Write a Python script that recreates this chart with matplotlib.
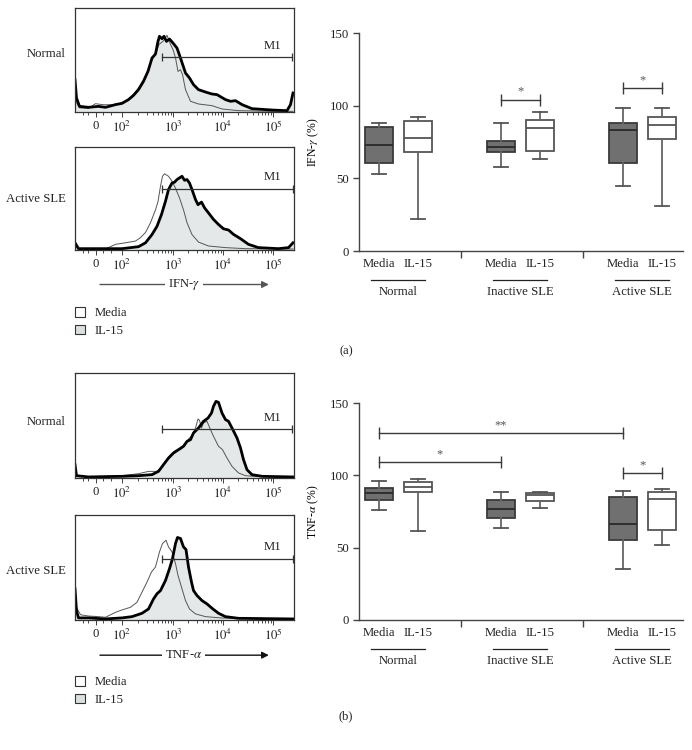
import matplotlib
matplotlib.use('Agg')
import matplotlib.pyplot as plt
from matplotlib.patches import Patch
from matplotlib.transforms import blended_transform_factory
import numpy as np

plt.rcParams['font.family'] = ['Liberation Serif', 'DejaVu Serif']
plt.rcParams['mathtext.fontset'] = 'stix'
plt.rcParams['text.color'] = '#222222'

FS = 9.2

# ---------------- histogram data (x in decades of fluorescence, y = % of panel height) -------------
hist_ticks = [1.46, 1.97, 3, 4, 5]
hist_ticklabels = ['0', '$10^2$', '$10^3$', '$10^4$', '$10^5$']

# IFN-g, normal
ifn_norm_il15_x = [1.04, 1.07, 1.13, 1.31, 1.51, 1.65, 1.85, 1.98, 2.11, 2.21, 2.31, 2.41, 2.50, 2.58, 2.65,
                   2.70, 2.73, 2.78, 2.82, 2.87, 2.93, 3.00, 3.08, 3.15, 3.25, 3.33, 3.41, 3.51, 3.65, 3.78,
                   3.88, 4.05, 4.15, 4.25, 4.38, 4.58, 4.98, 5.28, 5.35, 5.40]
ifn_norm_il15_y = [31, 13.5, 5.4, 4.5, 5.4, 4.5, 7.1, 8.3, 11.9, 16, 21.5, 29.5, 39.1, 51.9, 55.8,
                   67.9, 72.8, 70.5, 72.8, 67.9, 70.2, 66.3, 61.5, 51.9, 37.5, 32.7, 26.3, 21.5, 19.2, 17.3,
                   16.7, 11.9, 10.3, 10.9, 7.1, 3.2, 1.9, 1.3, 7.1, 18.3]
ifn_norm_media_x = [1.04, 1.08, 1.13, 1.31, 1.45, 1.60, 1.85, 1.98, 2.11, 2.21, 2.31, 2.41, 2.50, 2.58, 2.65,
                    2.72, 2.80, 2.88, 2.95, 3.00, 3.05, 3.10, 3.15, 3.19, 3.25, 3.35, 3.51, 3.78, 3.98, 4.31,
                    4.98, 5.40]
ifn_norm_media_y = [25, 8, 4, 3.5, 8, 7, 7, 9, 12, 17, 23, 31, 40, 50, 56,
                    65, 68, 73.7, 65, 60, 52, 39, 40.7, 36, 21.5, 10.3, 7.7, 6.1, 2.9, 1.3,
                    0.6, 0.6]

# IFN-g, active SLE
ifn_sle_il15_x = [1.04, 1.11, 1.65, 1.98, 2.31, 2.45, 2.58, 2.68, 2.77, 2.85, 2.91, 2.98, 3.03, 3.08, 3.13,
                  3.18, 3.23, 3.28, 3.33, 3.38, 3.45, 3.50, 3.57, 3.63, 3.71, 3.81, 3.91, 4.01, 4.11, 4.21,
                  4.35, 4.51, 4.71, 5.11, 5.31, 5.40]
ifn_sle_il15_y = [7, 1.3, 1.3, 1.3, 3.2, 7, 15, 23, 34.5, 47.4, 58.7, 65, 65.8, 68.4, 70,
                  71.6, 67.7, 68.4, 65, 58.7, 49, 44, 46.5, 41, 36, 29.7, 24.8, 20.6, 19.4, 15.2,
                  11, 5.5, 2.3, 1.3, 2.3, 7]
ifn_sle_media_x = [1.04, 1.10, 1.65, 1.85, 2.05, 2.25, 2.35, 2.45, 2.55, 2.65, 2.70, 2.75, 2.79, 2.83, 2.91,
                   2.98, 3.05, 3.13, 3.21, 3.28, 3.38, 3.51, 3.71, 4.05, 4.45, 5.40]
ifn_sle_media_y = [5, 1.3, 1, 5.5, 7, 8.7, 12, 17, 26.5, 39, 47, 62, 71.6, 74, 71.6,
                   66.8, 60, 50.6, 39, 26.5, 15, 7.7, 3.9, 2.3, 1.3, 1]

# TNF-a, normal
tnf_norm_il15_x = [1.04, 1.07, 1.31, 1.98, 2.31, 2.58, 2.71, 2.81, 2.91, 3.01, 3.11, 3.21, 3.28, 3.35, 3.41,
                   3.51, 3.61, 3.70, 3.77, 3.81, 3.86, 3.91, 3.98, 4.05, 4.11, 4.19, 4.28, 4.35, 4.41, 4.48,
                   4.58, 4.78, 5.40]
tnf_norm_il15_y = [12.7, 2.2, 1, 1.6, 2.2, 3.2, 6.3, 12.7, 19, 23.8, 27, 30.2, 34.9, 36.5, 42.9,
                   47.6, 54, 57.1, 61.9, 68.3, 73, 72, 61.9, 55.6, 54, 46.7, 38.1, 28.6, 17.5, 7.9,
                   3.2, 1.6, 1]
tnf_norm_media_x = [1.04, 1.07, 1.31, 1.98, 2.31, 2.51, 2.68, 2.75, 2.85, 2.95, 3.05, 3.15, 3.25, 3.31, 3.38,
                    3.45, 3.50, 3.53, 3.57, 3.61, 3.68, 3.75, 3.81, 3.91, 3.99, 4.08, 4.18, 4.31, 4.45, 4.71,
                    5.40]
tnf_norm_media_y = [8, 2, 1, 2.2, 4.1, 6.3, 6.3, 9.5, 15.9, 22.2, 26.3, 27, 31.7, 37.1, 40.3,
                    47.6, 56.2, 54.9, 47.6, 52.4, 54, 46, 39.7, 30.2, 27, 19, 11.1, 4.8, 2.2, 1.3,
                    1]

# TNF-a, active SLE
tnf_sle_il15_x = [1.04, 1.07, 1.11, 1.31, 1.65, 1.98, 2.18, 2.38, 2.51, 2.61, 2.68, 2.75, 2.85, 2.93, 2.99,
                  3.05, 3.09, 3.15, 3.21, 3.26, 3.31, 3.37, 3.41, 3.48, 3.58, 3.68, 3.78, 3.91, 4.05, 4.31,
                  5.40]
tnf_sle_il15_y = [29.7, 9, 2, 2, 1, 2, 3.2, 6.4, 10.5, 20, 25, 28, 37.7, 48.9, 58.5,
                  72.8, 78.6, 77.6, 69.6, 67.1, 50.5, 36.1, 28.1, 23.3, 18.5, 15.3, 11.2, 6.4, 3.2, 1.6,
                  1]
tnf_sle_media_x = [1.04, 1.07, 1.15, 1.31, 1.51, 1.65, 1.85, 1.98, 2.15, 2.28, 2.38, 2.48, 2.57, 2.65, 2.73,
                   2.79, 2.86, 2.91, 2.98, 3.05, 3.10, 3.17, 3.25, 3.33, 3.45, 3.65, 3.98, 5.40]
tnf_sle_media_y = [28, 12, 5, 3.8, 3.2, 2.6, 7.3, 9.6, 12.1, 16.9, 26.5, 36.1, 45.7, 50.5, 64.9,
                   72.8, 76, 69.6, 64.9, 53.7, 42.5, 31.3, 18.5, 10.5, 5.8, 3.2, 1.9, 1]

# M1 gate: (start, end, level)
m1_gates = [(2.78, 5.38, 52.9), (2.78, 5.40, 59.7), (2.78, 5.37, 46.7), (2.78, 5.40, 58.5)]

# ---------------- box plot data ----------------
box_labels = ['Media', 'IL-15', 'Media', 'IL-15', 'Media', 'IL-15']
group_names = ['Normal', 'Inactive SLE', 'Active SLE']
box_pos = [0, 0.32, 1, 1.32, 2, 2.32]

# IFN-g (%) : whisker low, q1, median, q3, whisker high
ifn_whislo = [52.9, 21.9, 57.5, 63.3, 44.6, 30.8]
ifn_q1 = [60.7, 68.3, 68.1, 69.0, 60.7, 76.8]
ifn_med = [73.2, 78.0, 71.5, 84.4, 83.3, 86.5]
ifn_q3 = [85.3, 89.7, 75.7, 90.4, 88.3, 92.5]
ifn_whishi = [87.9, 92.5, 88.1, 95.9, 98.5, 98.5]
ifn_sig = [(2, 3, 104, '*'), (4, 5, 112, '*')]

# TNF-a (%)
tnf_whislo = [75.9, 61.4, 63.9, 77.5, 35.5, 51.5]
tnf_q1 = [83.1, 88.2, 70.2, 82.2, 55.2, 62.3]
tnf_med = [87.7, 91.8, 76.4, 86.1, 66.7, 83.3]
tnf_q3 = [91.4, 95.3, 82.8, 87.5, 84.7, 88.2]
tnf_whishi = [95.8, 97.4, 88.4, 88.2, 89.1, 90.5]
tnf_sig = [(0, 4, 129.2, '**'), (0, 2, 108.9, '*'), (4, 5, 101.5, '*')]

W, H = 692, 750
fig = plt.figure(figsize=(W / 100, H / 100), dpi=100)


def rect(l, t, r, b):
    return [l / W, 1 - b / H, (r - l) / W, (b - t) / H]


def draw_hist(ax, il_x, il_y, me_x, me_y, gate):
    ax.fill_between(il_x, 0, il_y, color='#e4e8e8', lw=0)
    ax.plot(me_x, me_y, color='#555555', lw=0.7)
    ax.plot(il_x, il_y, color='black', lw=2.0, solid_joinstyle='round')
    g0, g1, gy = gate
    ax.plot([g0, g1], [gy, gy], color='#333333', lw=0.9, marker='|', ms=6, mew=0.9)
    ax.text(5.0, gy + 5, 'M1', ha='center', va='bottom', fontsize=FS)
    ax.set_xlim(1.04, 5.42)
    ax.set_ylim(0, 100)
    ax.set_yticks([])
    ax.set_xticks(hist_ticks)
    ax.set_xticklabels(hist_ticklabels, fontsize=FS)
    minors = [1.2, 1.3, 1.6, 1.75] + [np.log10(k * 10 ** n) for n in (2, 3, 4) for k in range(2, 10)]
    ax.set_xticks(minors, minor=True)
    ax.tick_params(axis='x', which='major', length=3.5, width=0.6, pad=2, colors='#222222')
    ax.tick_params(axis='x', which='minor', length=2, width=0.5)
    for s in ax.spines.values():
        s.set_color('#333333')
        s.set_linewidth(0.9)


def draw_box(ax, whislo, q1, med, q3, whishi, sig, ylabel):
    stats = []
    for i in range(len(box_pos)):
        stats.append({'whislo': whislo[i], 'q1': q1[i], 'med': med[i], 'q3': q3[i], 'whishi': whishi[i]})
    parts = ax.bxp(stats, positions=box_pos, widths=0.225, capwidths=0.115, showfliers=False,
                   patch_artist=True, manage_ticks=False,
                   whiskerprops=dict(color='#666666', lw=1.3),
                   capprops=dict(color='#555555', lw=1.3))
    for i, b in enumerate(parts['boxes']):
        if i % 2 == 0:
            b.set_facecolor('#707070')
            b.set_edgecolor('#3a3a3a')
            parts['medians'][i].set_color('#2a2a2a')
        else:
            b.set_facecolor('white')
            b.set_edgecolor('#555555')
            parts['medians'][i].set_color('#555555')
        b.set_linewidth(1.3)
        parts['medians'][i].set_linewidth(1.3)

    for a, b2, y, lab in sig:
        x0, x1 = box_pos[a], box_pos[b2]
        ax.plot([x0, x1], [y, y], color='#3a3a3a', lw=1.0, marker='|', ms=9, mew=1.0, clip_on=False)
        ax.text((x0 + x1) / 2, y + 1.5, lab, ha='center', va='bottom', fontsize=9, color='#555555')

    ax.set_xlim(-0.164, 2.492)
    ax.set_ylim(0, 150)
    ax.set_yticks([0, 50, 100, 150])
    ax.tick_params(axis='y', labelsize=FS, length=4, width=1, colors='#444444', labelcolor='#222222')
    ax.set_xticks(box_pos)
    ax.set_xticklabels(box_labels, fontsize=FS)
    ax.tick_params(axis='x', which='major', length=0, pad=5, labelcolor='#222222')
    ax.set_xticks([0.672, 1.672], minor=True)
    ax.tick_params(axis='x', which='minor', length=5, width=1, colors='#444444')
    ax.set_ylabel(ylabel, fontsize=8.5, labelpad=6)
    for s in ['top', 'right']:
        ax.spines[s].set_visible(False)
    for s in ['left', 'bottom']:
        ax.spines[s].set_color('#444444')
        ax.spines[s].set_linewidth(1.0)

    tr = blended_transform_factory(ax.transData, ax.transAxes)
    for g, name in enumerate(group_names):
        c = g + 0.156
        ax.plot([c - 0.22, c + 0.22], [-0.133, -0.133], color='#222222', lw=0.9,
                transform=tr, clip_on=False)
        ax.text(c, -0.19, name, ha='center', va='center', fontsize=FS, transform=tr)


def axis_arrow(ax, label, line_color):
    ax.annotate('', xy=(0.885, -0.335), xytext=(0.114, -0.335), xycoords='axes fraction',
                arrowprops=dict(arrowstyle='-|>', color=line_color, lw=1.0, mutation_scale=10,
                                shrinkA=0, shrinkB=0))
    ax.text(0.497, -0.335, label, transform=ax.transAxes, ha='center', va='center', fontsize=FS,
            bbox=dict(facecolor='white', edgecolor='none', pad=2))


def legend_at(y_px):
    handles = [Patch(facecolor='white', edgecolor='#333333', lw=0.8, label='Media'),
               Patch(facecolor='#dcdfdf', edgecolor='#333333', lw=0.8, label='IL-15')]
    fig.legend(handles=handles, loc='upper left', bbox_to_anchor=(70 / W, 1 - y_px / H),
               frameon=False, fontsize=FS, handlelength=0.8, handleheight=0.8,
               handletextpad=0.7, labelspacing=0.4, borderaxespad=0)


# ---- panel (a)
h1 = fig.add_axes(rect(75, 8, 294, 112))
draw_hist(h1, ifn_norm_il15_x, ifn_norm_il15_y, ifn_norm_media_x, ifn_norm_media_y, m1_gates[0])
h2 = fig.add_axes(rect(75, 147, 294, 250))
draw_hist(h2, ifn_sle_il15_x, ifn_sle_il15_y, ifn_sle_media_x, ifn_sle_media_y, m1_gates[1])
axis_arrow(h2, 'IFN-$\\gamma$', '#555555')
fig.text(66 / W, 1 - 54 / H, 'Normal', ha='right', va='center', fontsize=FS)
fig.text(66 / W, 1 - 199 / H, 'Active SLE', ha='right', va='center', fontsize=FS)
legend_at(302)

b1 = fig.add_axes(rect(359, 33, 683, 251))
draw_box(b1, ifn_whislo, ifn_q1, ifn_med, ifn_q3, ifn_whishi, ifn_sig, 'IFN-$\\gamma$ (%)')
fig.text(346 / W, 1 - 351 / H, '(a)', ha='center', va='center', fontsize=9)

# ---- panel (b)
h3 = fig.add_axes(rect(75, 373, 294, 478))
draw_hist(h3, tnf_norm_il15_x, tnf_norm_il15_y, tnf_norm_media_x, tnf_norm_media_y, m1_gates[2])
h4 = fig.add_axes(rect(75, 515, 294, 620))
draw_hist(h4, tnf_sle_il15_x, tnf_sle_il15_y, tnf_sle_media_x, tnf_sle_media_y, m1_gates[3])
axis_arrow(h4, 'TNF-$\\alpha$', '#111111')
fig.text(66 / W, 1 - 422 / H, 'Normal', ha='right', va='center', fontsize=FS)
fig.text(66 / W, 1 - 571 / H, 'Active SLE', ha='right', va='center', fontsize=FS)
legend_at(671)

b2 = fig.add_axes(rect(359, 403, 683, 620))
draw_box(b2, tnf_whislo, tnf_q1, tnf_med, tnf_q3, tnf_whishi, tnf_sig, 'TNF-$\\alpha$ (%)')
fig.text(346 / W, 1 - 716 / H, '(b)', ha='center', va='center', fontsize=9)

fig.savefig('out.png', dpi=100)
